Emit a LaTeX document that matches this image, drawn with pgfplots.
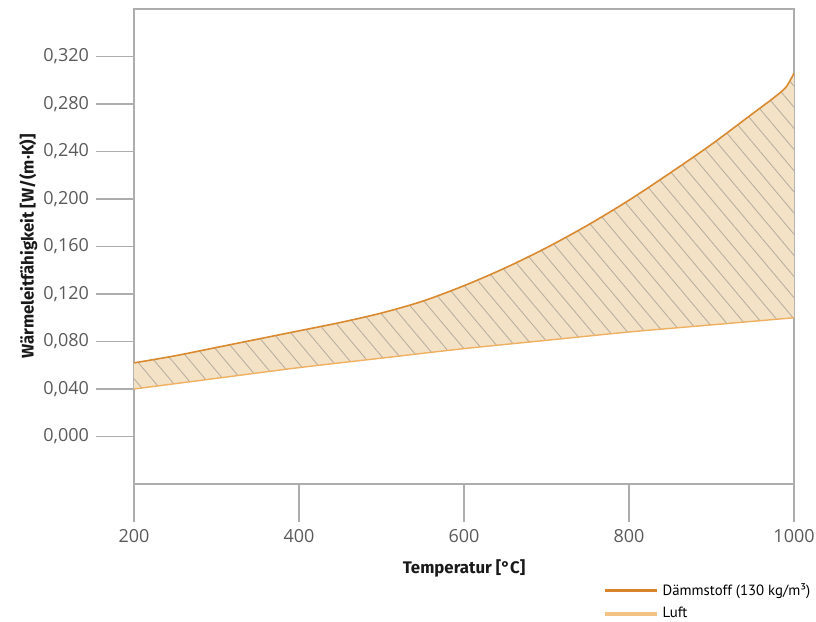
\documentclass[border=0pt]{standalone}
\usepackage{fontspec}
\setmainfont{PT Sans}
\newfontfamily\tickfont{Open Sans}
\newfontfamily\labelfont{Fira Sans}
\usepackage{pgfplots}
\pgfplotsset{compat=1.18}
\usepgfplotslibrary{fillbetween}
\usetikzlibrary{patterns.meta}
\definecolor{axgray}{HTML}{ADADAD}
\definecolor{ticktext}{HTML}{5A5A5A}
\definecolor{upperc}{HTML}{D98A30}
\definecolor{lowerc}{HTML}{EFB061}
\definecolor{fillc}{HTML}{F3E2C6}
\definecolor{hatchc}{HTML}{B9B0A2}
\definecolor{legdark}{HTML}{D7832C}
\definecolor{leglight}{HTML}{F2C384}
\newcommand{\lblf}{\labelfont\bfseries\fontsize{8.4}{10}\selectfont}
\begin{document}
\begin{tikzpicture}
\begin{axis}[
  scale only axis, width=330pt, height=237.5pt,
  xmin=200, xmax=1000, ymin=-0.04, ymax=0.36,
  xtick={200,400,600,800,1000},
  ytick={0,0.04,0.08,0.12,0.16,0.2,0.24,0.28,0.32},
  tick align=outside, major tick length=19pt,
  xtick pos=bottom, ytick pos=left,
  axis line style={draw=axgray, line width=0.7pt},
  every tick/.style={draw=axgray, line width=0.7pt},
  tick label style={font=\tickfont\fontsize{9}{10}\selectfont, text=ticktext},
  /pgf/number format/assume math mode=true,
  yticklabel style={/pgf/number format/fixed, /pgf/number format/fixed zerofill, /pgf/number format/precision=3, /pgf/number format/use comma},
  xticklabel style={/pgf/number format/1000 sep={}},
  xlabel={\lblf Temperatur [°C]},
  ylabel={\lblf Wärmeleitfähigkeit [W/(m·K)]},
  every axis x label/.style={at={(axis description cs:0.5,-0.178)}, anchor=center, text=black!90},
  every axis y label/.style={at={(axis description cs:-0.16,0.5)}, anchor=center, rotate=90, text=black!90},
  legend style={at={(axis description cs:0.7106,-0.1995)}, anchor=north west, draw=none, fill=none,
    font=\fontsize{7.4}{9}\selectfont, row sep=0.6pt, inner sep=0pt,
    /tikz/every even column/.append style={column sep=4pt}},
  legend cell align=left,
  legend image code/.code={\draw[#1] (0pt,0pt) -- (26pt,0pt);},
]
\addplot[name path=A, draw=upperc, line width=0.8pt, smooth, forget plot] coordinates {
(200,0.062) (250,0.068) (300,0.075) (350,0.082) (400,0.089) (450,0.096) (500,0.104)
(550,0.114) (600,0.127) (650,0.142) (700,0.159) (750,0.178) (800,0.199) (850,0.222)
(900,0.246) (950,0.272) (975,0.285) (990,0.294) (1000,0.306)};
\addplot[name path=B, draw=lowerc, line width=0.7pt, smooth, forget plot] coordinates {
(200,0.040) (300,0.049) (400,0.058) (500,0.066) (600,0.074) (700,0.081) (800,0.088) (900,0.094) (1000,0.100)};
\addplot[fill=fillc, draw=none, forget plot] fill between[of=A and B];
\addplot[pattern={Lines[angle=-50,distance=6.8pt,line width=0.45pt]}, pattern color=hatchc, draw=none, forget plot] fill between[of=A and B];
\addlegendimage{legdark, line width=1.6pt}
\addlegendentry{Dämmstoff (130 kg/m³)}
\addlegendimage{leglight, line width=1.6pt}
\addlegendentry{Luft}
\coordinate (bbA) at (axis description cs:-0.203,1.0189);
\coordinate (bbB) at (axis description cs:1.0333,-0.2884);
\end{axis}
\pgfresetboundingbox
\path[use as bounding box] (bbA) rectangle (bbB);
\end{tikzpicture}
\end{document}
